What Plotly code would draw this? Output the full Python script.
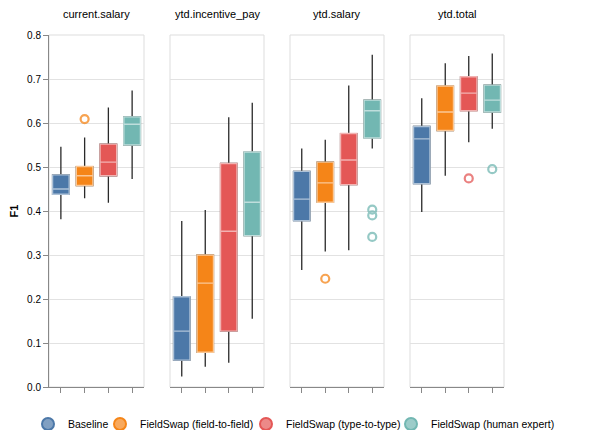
import plotly.graph_objects as go

facets = ["current.salary", "ytd.incentive_pay", "ytd.salary", "ytd.total"]
methods = ["Baseline", "FieldSwap (field-to-field)", "FieldSwap (type-to-type)", "FieldSwap (human expert)"]
colors = ["#4c78a8", "#f58518", "#e45756", "#72b7b2"]

# stats per facet (rows), per method (columns)
lows = [
    [0.381, 0.429, 0.419, 0.473],
    [0.024, 0.046, 0.055, 0.155],
    [0.266, 0.308, 0.311, 0.542],
    [0.398, 0.480, 0.556, 0.587],
]
q1s = [
    [0.438, 0.458, 0.480, 0.550],
    [0.061, 0.079, 0.127, 0.344],
    [0.378, 0.420, 0.460, 0.566],
    [0.462, 0.583, 0.628, 0.625],
]
medians = [
    [0.450, 0.480, 0.511, 0.597],
    [0.127, 0.236, 0.354, 0.420],
    [0.427, 0.464, 0.516, 0.628],
    [0.564, 0.625, 0.668, 0.652],
]
q3s = [
    [0.482, 0.501, 0.552, 0.614],
    [0.205, 0.300, 0.508, 0.534],
    [0.490, 0.511, 0.576, 0.652],
    [0.592, 0.684, 0.705, 0.686],
]
highs = [
    [0.546, 0.567, 0.635, 0.674],
    [0.377, 0.402, 0.613, 0.646],
    [0.542, 0.562, 0.685, 0.755],
    [0.656, 0.736, 0.752, 0.758],
]
# outliers: (facet index, method index, value)
outliers = [
    (0, 1, 0.609),
    (2, 1, 0.246),
    (2, 3, 0.403),
    (2, 3, 0.390),
    (2, 3, 0.341),
    (3, 2, 0.474),
    (3, 3, 0.495),
]

W, H = 603, 430
panel_px = [(49, 144), (170, 264), (290, 384), (410, 504)]
y_dom = [(H - 387) / H, (H - 35) / H]
legend_px = [54, 126, 272, 417]

FONT = "Liberation Sans, Arial, Helvetica, sans-serif"


def rgb(hexc):
    h = hexc.lstrip("#")
    return int(h[0:2], 16), int(h[2:4], 16), int(h[4:6], 16)


def rgba(hexc, a):
    r, g, b = rgb(hexc)
    return "rgba(%d,%d,%d,%s)" % (r, g, b, a)


def tint(hexc, t):
    r, g, b = rgb(hexc)
    return "rgb(%d,%d,%d)" % (r + (255 - r) * t, g + (255 - g) * t, b + (255 - b) * t)


fig = go.Figure()

for f in range(4):
    xa = "x" if f == 0 else "x%d" % (f + 1)
    ya = "y" if f == 0 else "y%d" % (f + 1)
    for m in range(4):
        # whiskers (dark rule) drawn first
        fig.add_trace(go.Box(
            x=[m], q1=[q1s[f][m]], median=[medians[f][m]], q3=[q3s[f][m]],
            lowerfence=[lows[f][m]], upperfence=[highs[f][m]],
            fillcolor=colors[m], line=dict(color="#2a2a2a", width=1.3),
            whiskerwidth=0, width=0.7, boxpoints=False, showlegend=False,
            hoverinfo="skip", xaxis=xa, yaxis=ya,
        ))
        # colored box on top
        fig.add_trace(go.Box(
            x=[m], q1=[q1s[f][m]], median=[medians[f][m]], q3=[q3s[f][m]],
            lowerfence=[q1s[f][m]], upperfence=[q3s[f][m]],
            fillcolor=colors[m], line=dict(color=tint(colors[m], 0.55), width=1.4),
            whiskerwidth=0, width=0.7, boxpoints=False, showlegend=False,
            name=methods[m], xaxis=xa, yaxis=ya,
        ))
    ox = [o[1] for o in outliers if o[0] == f]
    oy = [o[2] for o in outliers if o[0] == f]
    oc = [colors[o[1]] for o in outliers if o[0] == f]
    if ox:
        fig.add_trace(go.Scatter(
            x=ox, y=oy, mode="markers",
            marker=dict(symbol="circle-open", size=8, color=oc, line=dict(width=2.2)),
            opacity=0.75, showlegend=False, xaxis=xa, yaxis=ya,
        ))

legend_names = ["legend", "legend2", "legend3", "legend4"]
for m in range(4):
    fig.add_trace(go.Scatter(
        x=[None], y=[None], mode="markers", name=methods[m], legend=legend_names[m],
        marker=dict(symbol="circle", size=13, color=rgba(colors[m], 0.7),
                    line=dict(color=colors[m], width=1)),
        xaxis="x", yaxis="y",
    ))

layout = dict(
    width=W, height=H, margin=dict(l=0, r=0, t=0, b=0, autoexpand=False),
    paper_bgcolor="white", plot_bgcolor="white",
    boxmode="overlay",
    font=dict(family=FONT, size=10, color="#000"),
    shapes=[], annotations=[],
)
for m in range(4):
    layout[legend_names[m]] = dict(
        orientation="h", x=(legend_px[m] - 26) / W, xanchor="left",
        y=(H - 424) / H, yanchor="middle", bgcolor="rgba(0,0,0,0)",
        font=dict(size=10.5, color="#000"), itemsizing="constant",
    )

for f in range(4):
    xk = "xaxis" if f == 0 else "xaxis%d" % (f + 1)
    yk = "yaxis" if f == 0 else "yaxis%d" % (f + 1)
    ya = "y" if f == 0 else "y%d" % (f + 1)
    xa = "x" if f == 0 else "x%d" % (f + 1)
    layout[xk] = dict(
        domain=[panel_px[f][0] / W, panel_px[f][1] / W], anchor=ya,
        range=[-0.5, 3.5], tickvals=[0, 1, 2, 3], showticklabels=False,
        ticks="outside", ticklen=5, tickcolor="#888", showgrid=False,
        showline=True, linecolor="#888", linewidth=1, zeroline=False, fixedrange=True,
    )
    layout[yk] = dict(
        domain=y_dom, anchor=xa, range=[0, 0.8], dtick=0.1, tickformat=".1f",
        showgrid=True, gridcolor="#e2e2e2", gridwidth=1, zeroline=False,
        showticklabels=(f == 0), ticks="outside" if f == 0 else "", ticklen=5,
        tickcolor="#888", showline=(f == 0), linecolor="#888", linewidth=1,
        tickfont=dict(size=10, color="#000"),
    )
    if f == 0:
        layout[yk]["title"] = dict(text="<b>F1</b>", font=dict(size=11, color="#000"), standoff=6)
    layout["shapes"].append(dict(
        type="rect", xref="%s domain" % xa, yref="%s domain" % ya,
        x0=0, x1=1, y0=0, y1=1, line=dict(color="#dddddd", width=1), layer="below",
    ))
    layout["annotations"].append(dict(
        text=facets[f], xref="%s domain" % xa, yref="paper", x=0.5,
        y=(H - 14) / H, yanchor="middle", showarrow=False, font=dict(size=11, color="#000"),
    ))

fig.update_layout(**layout)
fig.write_html(
    "out.html",
    config={"displayModeBar": False},
    post_script="document.body.style.margin='0';document.body.style.overflow='hidden';",
)
